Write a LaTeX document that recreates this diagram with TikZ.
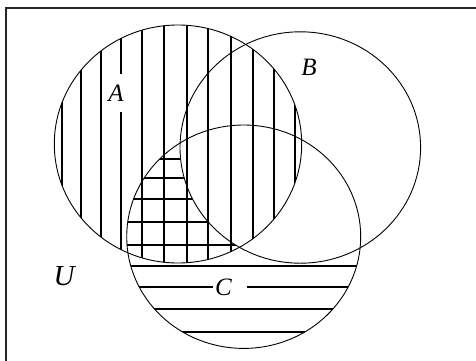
\documentclass[tikz,border=0pt]{standalone}
\usepackage{fontspec}
\setmainfont{Liberation Serif}
\begin{document}
\begin{tikzpicture}[x=1pt,y=-1pt,
  setline/.style={line width=0.9pt},
  hatch/.style={line width=1.1pt},
  frameline/.style={line width=1.8pt, draw=black!85},
  setlabel/.style={font=\fontsize{25}{28}\selectfont\itshape, inner sep=1pt}]
\useasboundingbox (0,0) rectangle (476,360);
\draw[frameline] (6,8) rectangle (500,400);
% vertical hatching: set A
\begin{scope}
  \clip (178,144) ellipse [x radius=123.7pt, y radius=119pt];
  \foreach \x in {62,81,101,121,142,164,187,208,231,253,274,295}
    \draw[hatch] (\x,0) -- (\x,300);
\end{scope}
% horizontal hatching: C minus B
\begin{scope}[even odd rule]
  \clip (243.7,236.7) ellipse [x radius=117pt, y radius=111.7pt];
  \clip (0,0) rectangle (476,360)
    (300.3,147.5) ellipse [x radius=120.3pt, y radius=115.7pt];
  \foreach \y in {159,178,199,222,245,266,287,309,332}
    \draw[hatch] (100,\y) -- (400,\y);
\end{scope}
% circles
\draw[setline] (178,144) ellipse [x radius=123.7pt, y radius=119pt];
\draw[setline] (300.3,147.5) ellipse [x radius=120.3pt, y radius=115.7pt];
\draw[setline] (243.7,236.7) ellipse [x radius=117pt, y radius=111.7pt];
% labels
\node[setlabel, fill=white, minimum height=38pt, inner xsep=1pt] (labA) at (116,93) {A};
\node[setlabel] (labB) at (309,67) {B};
\node[setlabel, fill=white, text width=30pt, align=left, inner xsep=2pt, minimum height=16pt] (labC) at (230,287) {C};
\node[font=\fontsize{29}{32}\selectfont\itshape, inner sep=1pt] (labU) at (64,276) {U};
\end{tikzpicture}
\end{document}
